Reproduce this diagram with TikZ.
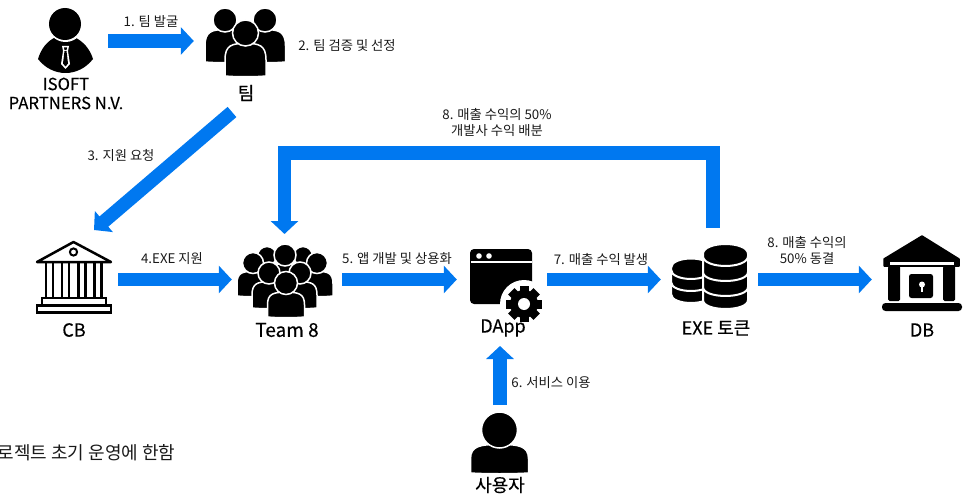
\documentclass[tikz,border=0pt]{standalone}
\usepackage{fontspec}
\setmainfont{Noto Sans CJK KR}
\newfontfamily\medfont[FakeBold=0.25]{Noto Sans CJK KR}
\newfontfamily\heavyfont[FakeBold=0.7]{Noto Sans CJK KR}
\usetikzlibrary{arrows.meta}
\definecolor{flowblue}{RGB}{0,120,240}
\newcommand\bust[5]{% cx cy r halfwidth bottom
  \pgfmathsetmacro\bt{#2+0.8*#3}
  \pgfmathsetmacro\bh{#5-\bt}
  \fill[black,draw=white,line width=1.5pt] (#1-#4,#5) -- (#1-#4,\bt+0.5*\bh)
    .. controls (#1-#4,\bt+0.05*\bh) and (#1-0.65*#4,\bt) .. (#1,\bt)
    .. controls (#1+0.65*#4,\bt) and (#1+#4,\bt+0.05*\bh) .. (#1+#4,\bt+0.5*\bh)
    -- (#1+#4,#5) .. controls (#1+0.5*#4,#5+1) and (#1-0.5*#4,#5+1) .. cycle;
  \fill[black,draw=white,line width=1.5pt] (#1,#2) circle[radius=#3 pt];
}
\newcommand\disk[5]{% cx cy rx ry h
  \fill[black,draw=white,line width=2pt] (#1-#3,#2) -- (#1-#3,#2+#5)
    .. controls (#1-#3,#2+#5+1.33*#4) and (#1+#3,#2+#5+1.33*#4) .. (#1+#3,#2+#5)
    -- (#1+#3,#2) .. controls (#1+#3,#2-1.33*#4) and (#1-#3,#2-1.33*#4) .. cycle;
}
\tikzset{
  flow/.style={draw=flowblue,line width=13.5pt,line join=miter,
    -{Triangle[length=13pt,width=27pt,fill=flowblue]}},
  lbl/.style={font=\fontsize{13.3}{16}\selectfont,text=black!90,inner sep=0pt,align=center},
  title/.style={font=\medfont\fontsize{18}{19}\selectfont,text=black,inner sep=0pt,align=center},
  slot/.style={inner sep=0pt,minimum height=60pt}
}
\begin{document}
\begin{tikzpicture}[x=1pt,y=-1pt]
\useasboundingbox (0,0) rectangle (970,495);
% slots around the icons
\node[slot,minimum width=84pt] (isoft) at (66,41) {};
\node[slot,minimum width=104pt] (team) at (246,41) {};
\node[slot,minimum width=88pt] (cb) at (74,279.5) {};
\node[slot,minimum width=110pt] (teameight) at (287,279.5) {};
\node[slot,minimum width=90pt] (dapp) at (502,279.5) {};
\node[slot,minimum width=97pt] (exe) at (709.5,279.5) {};
\node[slot,minimum width=100pt] (db) at (922,279.5) {};
\coordinate (teamout) at (232,112);
\coordinate (cbin) at (94,230);
\coordinate (exeup) at (713,228);
\coordinate (backa) at (713,153);
\coordinate (backb) at (284.5,153);
\coordinate (teameightin) at (284.5,234);
\coordinate (userout) at (500,405);
\coordinate (dappin) at (500,346);

% ISOFT person
\fill (38,59) .. controls (41,49) and (47,41) .. (56,37) -- (74,37)
  .. controls (83,41) and (90,49) .. (93,59)
  .. controls (86,68) and (76,73) .. (65.5,73)
  .. controls (55,73) and (45,68) .. (38,59) -- cycle;
\fill[white] (65.5,24) ellipse[x radius=18pt,y radius=18pt];
\fill (65,24) ellipse[x radius=16pt,y radius=16pt];
\fill[white] (62,46) -- (69,46) -- (68,51) -- (70,64) -- (65.5,69) -- (61,64) -- (63,51) -- cycle;
\fill (64,47.5) -- (67,47.5) -- (66.5,50) -- (64.5,50) -- cycle;
\fill (64.5,51) -- (66.5,51) -- (68,63.5) -- (65.5,66.5) -- (63,63.5) -- cycle;

% team of three
\bust{225}{20}{12}{20}{62}
\bust{265}{20}{12}{20.5}{62}
\bust{245.5}{33}{13}{20.5}{76}

% CB building
\draw[line width=2.5pt,line join=round,line cap=round] (37,262) -- (73.5,242) -- (111,262) -- cycle;
\draw[line width=2pt] (73.5,252) circle[radius=3.6pt];
\foreach \cx in {49.5,65.5,82,98}
  \draw[line width=2.3pt] (\cx-3.5,262) -- (\cx-3.5,297) (\cx+3.5,262) -- (\cx+3.5,297);
\draw[line width=2.4pt] (42,298) rectangle (106,305);
\draw[line width=2.4pt] (37,305.5) rectangle (111,312.5);

% Team 8 crowd
\bust{267}{256}{9.5}{14}{285}
\bust{303}{256}{9.5}{14}{285}
\bust{285}{255}{11}{15}{285}
\bust{253}{263}{10.5}{16}{296}
\bust{317}{263}{10.5}{16}{296}
\bust{269}{273}{11}{17}{308}
\bust{300}{273}{11}{17}{308}
\bust{286}{283}{11.5}{18.5}{317}

% DApp window
\fill[rounded corners=4pt] (470,249) rectangle (532,304);
\fill[white] (470.5,261.2) rectangle (531.5,263);
\fill[white] (479,256) circle[radius=2.8pt] (489,256) circle[radius=2.8pt];
\fill[white] (524,304) circle[radius=24pt];
\fill (524,304) circle[radius=14pt];
\foreach \a in {0,45,...,315}
  \fill[rotate around={\a:(524,304)}] (519.5,286) rectangle (528.5,293);
\fill[white] (524,304) circle[radius=6pt];

% user
\bust{499.5}{430}{18}{29}{473}

% coins
\disk{691}{283}{20}{9}{11}
\disk{691}{272}{20}{9}{10}
\disk{691}{268}{20}{9.5}{1.5}
\disk{725.5}{288}{22.5}{9}{12}
\disk{725.5}{273}{22.5}{9}{14}
\disk{725.5}{258}{22.5}{9}{14}
\disk{725.5}{254}{22.5}{10}{2}

% DB vault
\fill[line join=round,draw=black,line width=1.5pt] (922,236) -- (959,259) -- (959,266) -- (884,266) -- (884,259) -- cycle;
\fill[white] (890,262) rectangle (954,264.5);
\fill[rounded corners=1.5pt] (888,266) rectangle (900,301);
\fill[rounded corners=1.5pt] (943,266) rectangle (955,301);
\fill[rounded corners=2.5pt] (909,274) rectangle (933,298);
\fill[white] (922,284.5) circle[radius=3pt];
\fill[white] (920.7,285) rectangle (923.3,292);
\fill[rounded corners=3.5pt] (882,303) rectangle (962,311);

% connectors
\draw[flow] (isoft.east) -- (team.west);
\draw[flow] (teamout) -- (cbin);
\draw[flow] (exeup) -- (backa) -- (backb) -- (teameightin);
\draw[flow] (cb.east) -- (teameight.west);
\draw[flow] (teameight.east) -- (dapp.west);
\draw[flow] (dapp.east) -- (exe.west);
\draw[flow] (exe.east) -- (db.west);
\draw[flow] (userout) -- (dappin);

% titles
\node[title,font=\medfont\fontsize{16.7}{19}\selectfont] (tisoft) at (66,93.5) {ISOFT\\PARTNERS N.V.};
\node[title,font=\heavyfont\fontsize{18}{19}\selectfont] (tteam) at (246,93) {팀};
\node[title] (tcb) at (74,330) {CB};
\node[title,font=\medfont\fontsize{19}{19}\selectfont] (tteameight) at (287,330) {Team 8};
\node[title] (tdapp) at (503,328) {DApp};
\node[title] (texe) at (716,328) {EXE 토큰};
\node[title] (tdb) at (922,330) {DB};
\node[title] (tuser) at (500,485) {사용자};

% labels
\node[lbl] (l1) at (151,21) {1. 팀 발굴};
\node[lbl] (l2) at (347,46) {2. 팀 검증 및 선정};
\node[lbl] (l3) at (121,155) {3. 지원 요청};
\node[lbl] (l4) at (172,259) {4.EXE 지원};
\node[lbl] (l5) at (397,259) {5. 앱 개발 및 상용화};
\node[lbl] (l6) at (551,383) {6. 서비스 이용};
\node[lbl] (l7) at (601,259) {7. 매출 수익 발생};
\node[lbl] (l8a) at (497,122) {8. 매출 수익의 50\%\\개발사 수익 배분};
\node[lbl] (l8b) at (807,250) {8. 매출 수익의\\50\% 동결};
\node[lbl,anchor=east,font=\fontsize{18}{20}\selectfont] (note) at (175.5,453) {로젝트 초기 운영에 한함};
\end{tikzpicture}
\end{document}
